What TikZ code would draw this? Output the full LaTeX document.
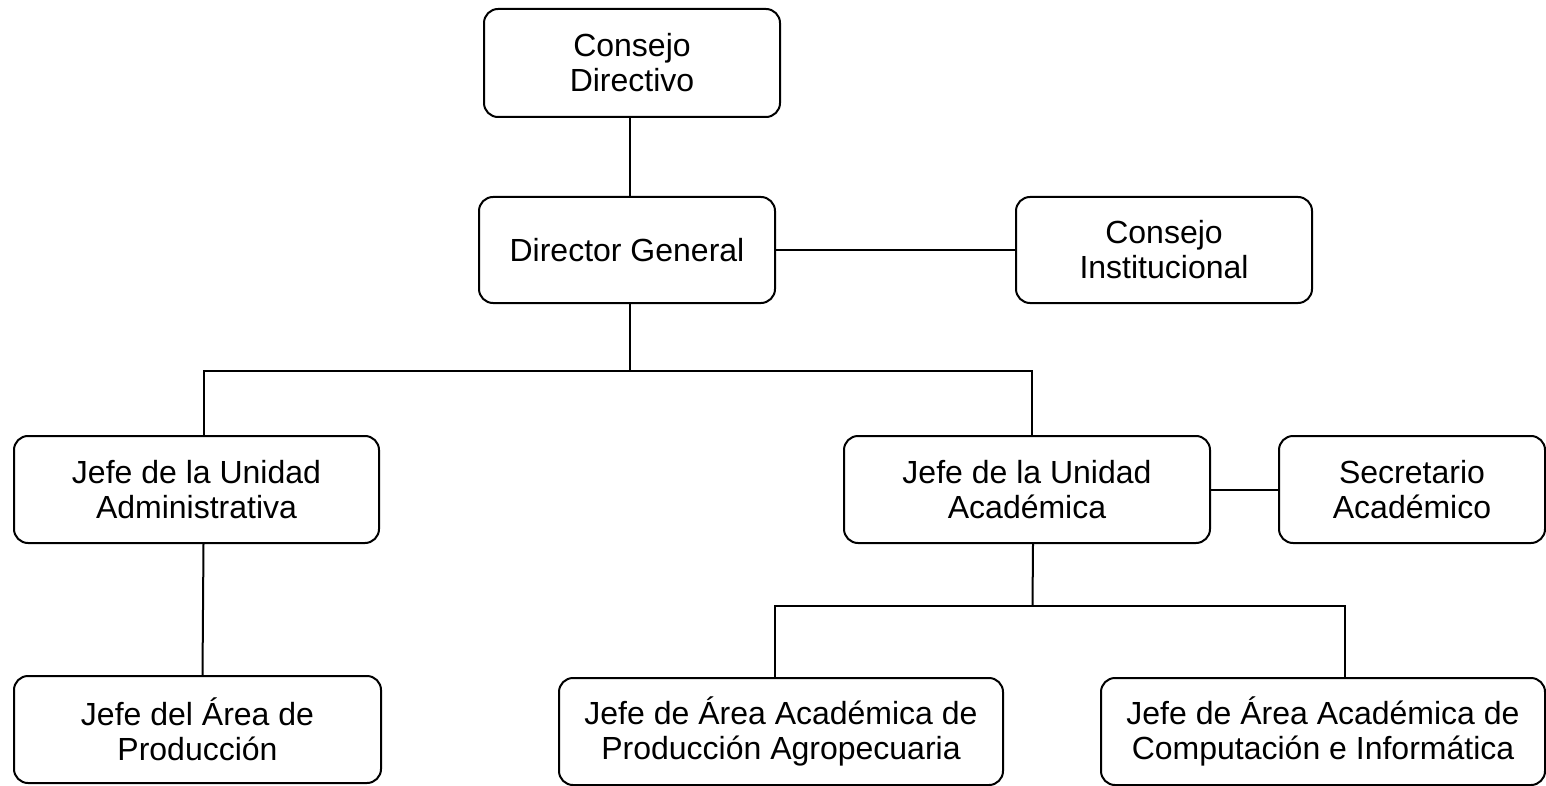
\documentclass[tikz,border=0pt]{standalone}
\usepackage{fontspec}
\setmainfont{Liberation Sans}
\usetikzlibrary{positioning}

\begin{document}
\begin{tikzpicture}[x=0.5pt,y=-0.5pt,
    box/.style={draw=black,line width=1pt,rounded corners=7pt,align=center,
        inner sep=0pt,font=\fontsize{16}{17.5}\selectfont},
    link/.style={draw=black,line width=1pt}]

        % Background
        \useasboundingbox[fill=white] (0,0) rectangle (1546,786);

        % Top
        \node[box,minimum width=148pt,minimum height=54pt] (cdir) at (632,63) {Consejo\\Directivo};
        \node[box,minimum width=148pt,minimum height=53pt] (dgen) at (627,250) {Director General};
        \node[box,minimum width=148pt,minimum height=53pt] (cins) at (1164,250) {Consejo\\Institucional};

        % Units
        \node[box,minimum width=182.5pt,minimum height=53.5pt] (uadm) at (196.5,489.5) {Jefe de la Unidad\\Administrativa};
        \node[box,minimum width=183pt,minimum height=53.5pt] (uaca) at (1027,489.5) {Jefe de la Unidad\\Académica};
        \node[box,minimum width=133pt,minimum height=53.5pt] (secr) at (1412,489.5) {Secretario\\Académico};

        % Areas
        \node[box,minimum width=183.5pt,minimum height=53.5pt] (aprod) at (197.5,729.5) {Jefe del Área de\\Producción};
        \node[box,minimum width=222pt,minimum height=53.5pt] (aagro) at (781,731.5) {Jefe de Área Académica de\\Producción Agropecuaria};
        \node[box,minimum width=222pt,minimum height=53.5pt] (acomp) at (1323,731.5) {Jefe de Área Académica de\\Computación e Informática};

        % Lines
        \draw[link] ([xshift=-1pt]cdir.south) -- ([xshift=1.5pt]dgen.north);
        \draw[link] (dgen.east) -- (cins.west);
        \draw[link] (uaca.east) -- (secr.west);
        \draw[link] ([xshift=1.5pt]dgen.south) -- ++(0,67) coordinate (j1);
        \draw[link] ([xshift=3.5pt]uadm.north) |- (j1) -| ([xshift=2.5pt]uaca.north);
        \draw[link] ([xshift=3.5pt]uadm.south) -- ([xshift=2.5pt]aprod.north);
        \draw[link] ([xshift=3pt]uaca.south) -- ++(-0.5,62) coordinate (j2);
        \draw[link] ([xshift=-3pt]aagro.north) |- (j2) -| ([xshift=11pt]acomp.north);

    \end{tikzpicture}
\end{document}
